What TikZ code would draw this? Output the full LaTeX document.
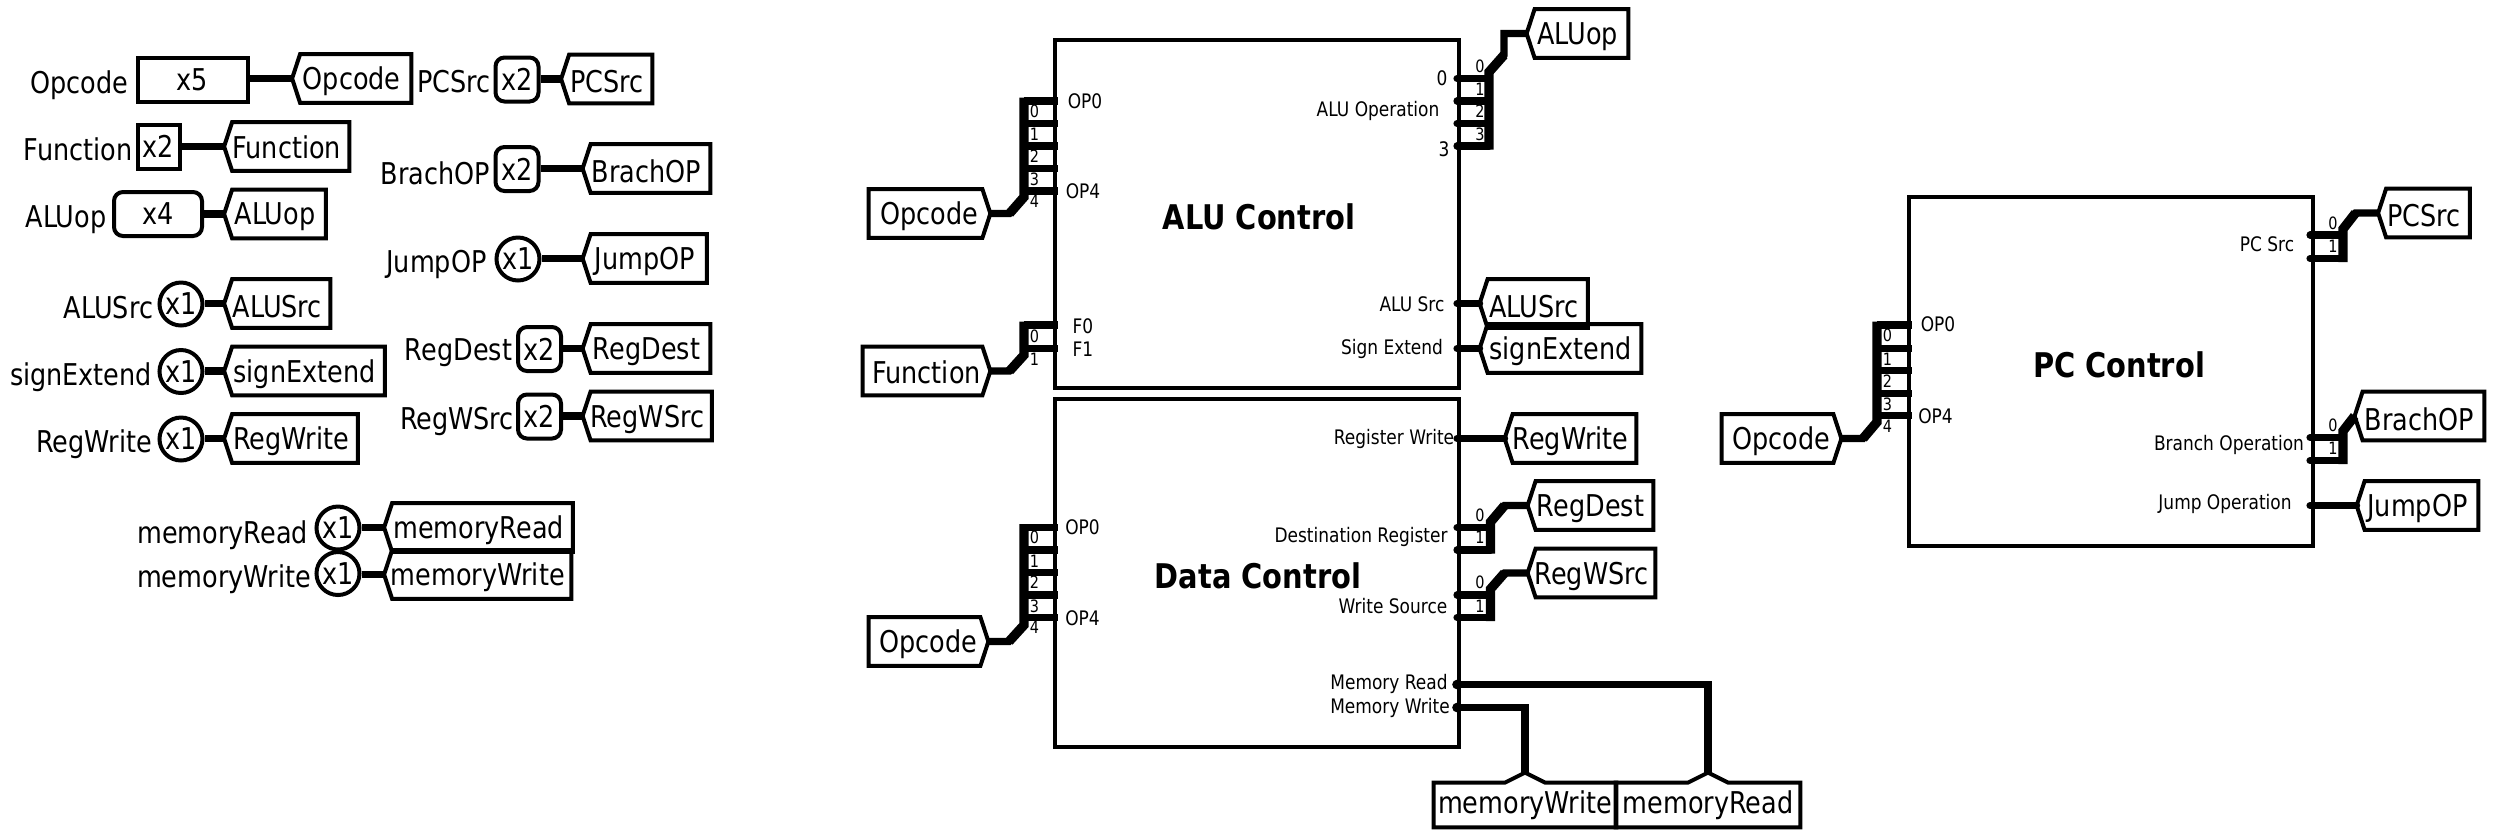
\documentclass[tikz,border=0pt]{standalone}
\usepackage{fontspec}
\setmainfont[FakeStretch=0.85]{DejaVu Sans}
\tikzset{
  outline/.style={draw=black,line width=2pt,line join=miter},
  wire/.style={draw=black,line width=3.6pt,line join=miter},
  busline/.style={draw=black,line width=4.7pt,line join=miter},
  pinwire/.style={wire,line cap=round},
  big/.style={inner sep=0pt,font=\fontsize{15}{18}\selectfont},
  pinlab/.style={inner sep=0pt,font=\fontsize{10}{12}\selectfont},
  bitlab/.style={inner sep=0pt,font=\fontsize{8.5}{10}\selectfont},
  title/.style={inner sep=0pt,font=\fontsize{17}{20}\selectfont\bfseries},
  ctl/.style={outline,rectangle,inner sep=0pt,minimum width=202pt,minimum height=174pt},
  sq/.style={outline,rectangle,inner sep=0pt,minimum height=22pt,big},
  rd/.style={sq,rounded corners=4.5pt},
  ci/.style={outline,circle,inner sep=0pt,minimum size=21.5pt,big},
  tagbody/.style={rectangle,inner sep=0pt,minimum height=24pt,big}
}
\newcommand\low[2]{\raisebox{-#1}[\height][\depth]{#2}}
% tag pointing left: name, tip x, right x, y, text
\newcommand\tagl[5]{%
  \node[tagbody,minimum width={(#3-#2)*0.5pt}] (#1) at ({(#2+#3)/2},#4) {\low{1.5pt}{#5}};
  \draw[outline] (#1.north east) -- ([xshift=4pt]#1.north west) -- (#1.west) -- ([xshift=4pt]#1.south west) -- (#1.south east) -- cycle;}
% tag pointing right: name, left x, tip x, y, text
\newcommand\tagr[5]{%
  \node[tagbody,minimum width={(#3-#2)*0.5pt}] (#1) at ({(#2+#3)/2},#4) {\low{1.5pt}{#5}};
  \draw[outline] (#1.north west) -- ([xshift=-4pt]#1.north east) -- (#1.east) -- ([xshift=-4pt]#1.south east) -- (#1.south west) -- cycle;}
% tag pointing up: name, left x, right x, tip y, bottom y, text
\newcommand\tagu[6]{%
  \node[tagbody,minimum width={(#3-#2)*0.5pt},minimum height={(#5-#4)*0.5pt}] (#1) at ({(#2+#3)/2},{(#4+#5)/2}) {\low{2.5pt}{#6}};
  \draw[outline] ([yshift=-5pt]#1.north west) -- ([xshift=-10pt,yshift=-5pt]#1.north) -- (#1.north) -- ([xshift=10pt,yshift=-5pt]#1.north) -- ([yshift=-5pt]#1.north east) -- (#1.south east) -- (#1.south west) -- cycle;}
% pin stub: coordinate name, pin x, bus x, y
\newcommand\pinL[4]{\coordinate (#1) at (#2,#4); \draw[wire] (#3,#4) -- (#1);}
\newcommand\pinR[4]{\coordinate (#1) at (#2,#4); \draw[pinwire] (#1) -- (#3,#4);}
\begin{document}
\begin{tikzpicture}[x=0.5pt,y=-0.5pt]
\useasboundingbox[fill=white] (0,0) rectangle (2494,837);

% ---------- left column: declarations
\node[big] (lOpcode) at (79,85) {Opcode};
\node[sq,minimum width=55pt] (sOpcode) at (192.5,79.5) {x5};
\tagl{tOpcode}{292.5}{411}{78.5}{Opcode}
\draw[wire] (tOpcode.west -| sOpcode.east) -- (tOpcode.west);

\node[big] (lFunction) at (78,149) {Function};
\node[sq,minimum width=21pt] (sFunction) at (158.5,146.5) {x2};
\tagl{tFunction}{224.5}{349}{146.5}{\raisebox{1pt}[\height][\depth]{Function}}
\draw[wire] (tFunction.west -| sFunction.east) -- (tFunction.west);

\node[big] (lALUop) at (66,220) {ALUop};
\node[rd,minimum width=44pt] (sALUop) at (158,214) {x4};
\tagl{tALUop}{224.5}{325.5}{214}{ALUop}
\draw[wire] (tALUop.west -| sALUop.east) -- (tALUop.west);

\node[big] (lALUSrc) at (108.5,308) {ALUSrc};
\node[ci] (sALUSrc) at (181,304) {x1};
\tagl{tALUSrc}{224.5}{330}{303.5}{ALUSrc}
\draw[wire] (tALUSrc.west -| sALUSrc.east) -- (tALUSrc.west);

\node[big] (lsignExtend) at (81,377) {signExtend};
\node[ci] (ssignExtend) at (181,371.5) {x1};
\tagl{tsignExtend}{224.5}{384.5}{371}{signExtend}
\draw[wire] (tsignExtend.west -| ssignExtend.east) -- (tsignExtend.west);

\node[big] (lRegWrite) at (94,444) {RegWrite};
\node[ci] (sRegWrite) at (181,439) {x1};
\tagl{tRegWrite}{224.5}{357.5}{438.5}{RegWrite}
\draw[wire] (tRegWrite.west -| sRegWrite.east) -- (tRegWrite.west);

\node[big] (lPCSrc) at (454,82) {PCSrc};
\node[rd,minimum width=21.5pt] (sPCSrc) at (517,79.5) {x2};
\tagl{tPCSrc}{561.5}{652}{79}{PCSrc}
\draw[wire] (tPCSrc.west -| sPCSrc.east) -- (tPCSrc.west);

\node[big] (lBrachOP) at (435.5,173) {BrachOP};
\node[rd,minimum width=21.5pt] (sBrachOP) at (517,169) {x2};
\tagl{tBrachOP}{583}{710}{168.5}{BrachOP}
\draw[wire] (tBrachOP.west -| sBrachOP.east) -- (tBrachOP.west);

\node[big] (lJumpOP) at (436.5,264) {JumpOP};
\node[ci] (sJumpOP) at (518,259) {x1};
\tagl{tJumpOP}{583}{706.5}{258.5}{JumpOP}
\draw[wire] (tJumpOP.west -| sJumpOP.east) -- (tJumpOP.west);

\node[big] (lRegDest) at (458.5,353) {RegDest};
\node[rd,minimum width=21.5pt] (sRegDest) at (539.5,349) {x2};
\tagl{tRegDest}{583}{710}{348.5}{RegDest}
\draw[wire] (tRegDest.west -| sRegDest.east) -- (tRegDest.west);

\node[big] (lRegWSrc) at (457,421) {RegWSrc};
\node[rd,minimum width=21.5pt] (sRegWSrc) at (539.5,416.5) {x2};
\tagl{tRegWSrc}{583}{711.5}{416}{RegWSrc}
\draw[wire] (tRegWSrc.west -| sRegWSrc.east) -- (tRegWSrc.west);

\node[big] (lmemoryRead) at (222.5,535) {memoryRead};
\node[ci] (smemoryRead) at (338,528) {x1};
\tagl{tmemoryRead}{384.5}{572.5}{527.5}{memoryRead}
\draw[wire] (tmemoryRead.west -| smemoryRead.east) -- (tmemoryRead.west);

\node[big] (lmemoryWrite) at (224,579) {memoryWrite};
\node[ci] (smemoryWrite) at (338,573.5) {x1};
\tagl{tmemoryWrite}{384.5}{571}{574.5}{memoryWrite}
\draw[wire] (tmemoryWrite.west -| smemoryWrite.east) -- (tmemoryWrite.west);

% ---------- ALU Control
\node[ctl] (alu) at (1257,213.5) {};
\node[title] (aluTitle) at (1259,217) {ALU Control};
\node[pinlab] (aOP0) at (1085,101.5) {OP0};
\node[pinlab] (aOP4) at (1083,191.5) {OP4};
\node[pinlab] (aF0) at (1083,326) {F0};
\node[pinlab] (aF1) at (1083,349) {F1};
\node[pinlab] (aR0) at (1442,78.5) {0};
\node[pinlab] (aOper) at (1378,111) {ALU Operation};
\node[pinlab] (aR3) at (1444,149) {3};
\node[pinlab] (aSrc) at (1412,304) {ALU Src};
\node[pinlab] (aSign) at (1392,349) {Sign Extend};

\tagr{aOpTag}{869}{990}{213.5}{Opcode}
\coordinate (aIn0) at (1058,101);
\draw[wire] (aOpTag.east) -- (1009.5,213.5) -- (1017,205);
\draw[wire] (1024,101) -- (aIn0);
\draw[busline] (1009.5,213.5) -- (1024,197) -- (1024,97.5);
\pinL{aIn1}{1058}{1024}{123.5}
\pinL{aIn2}{1058}{1024}{146}
\pinL{aIn3}{1058}{1024}{168.5}
\pinL{aIn4}{1058}{1024}{191}
\node[bitlab] (ab0) at (1034.5,111.5) {0};
\node[bitlab] (ab1) at (1034.5,134) {1};
\node[bitlab] (ab2) at (1034.5,156.5) {2};
\node[bitlab] (ab3) at (1034.5,179) {3};
\node[bitlab] (ab4) at (1034.5,201.5) {4};

\tagr{aFnTag}{863}{990}{371}{\raisebox{1pt}[\height][\depth]{Function}}
\coordinate (aFn0) at (1058,325);
\draw[wire] (aFnTag.east) -- (1009.5,371) -- (1017,363);
\draw[wire] (1024,325) -- (aFn0);
\draw[busline] (1009.5,371) -- (1024,355) -- (1024,321.5);
\pinL{aFn1}{1058}{1024}{348.5}
\node[bitlab] (af0) at (1034.5,336) {0};
\node[bitlab] (af1) at (1034.5,359.5) {1};

\tagl{aALUopTag}{1527}{1628}{33.5}{ALUop}
\coordinate (aOut0) at (1457,78.5);
\draw[pinwire] (aOut0) -- (1489,78.5);
\draw[wire] (1497,63) -- (1504,55) -- (1504,33.5) -- (aALUopTag.west);
\draw[busline] (1489,149.5) -- (1489,72) -- (1504,55);
\pinR{aOut1}{1457}{1489}{101}
\pinR{aOut2}{1457}{1489}{123.5}
\pinR{aOut3}{1457}{1489}{146}
\node[bitlab] (ar0) at (1480,66.5) {0};
\node[bitlab] (ar1) at (1480,89) {1};
\node[bitlab] (ar2) at (1480,111.5) {2};
\node[bitlab] (ar3) at (1480,134) {3};

\tagl{aSrcTag}{1480}{1587.5}{303.5}{ALUSrc}
\coordinate (aSrcPin) at (1457,303.5);
\draw[pinwire] (aSrcPin) -- (aSrcTag.west);
\tagl{aSignTag}{1480}{1641}{348.5}{signExtend}
\coordinate (aSignPin) at (1457,348.5);
\draw[pinwire] (aSignPin) -- (aSignTag.west);

% ---------- Data Control
\node[ctl] (dat) at (1257,573) {};
\node[title] (datTitle) at (1258,576) {Data Control};
\node[pinlab] (dOP0) at (1082.5,527.5) {OP0};
\node[pinlab] (dOP4) at (1082.5,618.5) {OP4};
\node[pinlab] (dRW) at (1394,438.5) {Register Write};
\node[pinlab] (dDR) at (1361,536.5) {Destination Register};
\node[pinlab] (dWS) at (1393,606.5) {Write Source};
\node[pinlab] (dMR) at (1389,683.5) {Memory Read};
\node[pinlab] (dMW) at (1390,707.5) {Memory Write};

\tagr{dOpTag}{869}{988}{641.5}{Opcode}
\coordinate (dIn0) at (1058,527.5);
\draw[wire] (dOpTag.east) -- (1009,641.5) -- (1017,633);
\draw[wire] (1024,527.5) -- (dIn0);
\draw[busline] (1009,641.5) -- (1024,625) -- (1024,524);
\pinL{dIn1}{1058}{1024}{550}
\pinL{dIn2}{1058}{1024}{572.5}
\pinL{dIn3}{1058}{1024}{595}
\pinL{dIn4}{1058}{1024}{617.5}
\node[bitlab] (db0) at (1034.5,537.5) {0};
\node[bitlab] (db1) at (1034.5,561) {1};
\node[bitlab] (db2) at (1034.5,582.5) {2};
\node[bitlab] (db3) at (1034.5,606) {3};
\node[bitlab] (db4) at (1034.5,627.5) {4};

\tagl{dRWTag}{1505}{1636}{438.5}{RegWrite}
\coordinate (dRWPin) at (1457,438.5);
\draw[pinwire] (dRWPin) -- (dRWTag.west);

\tagl{dDRTag}{1528}{1653}{505.5}{RegDest}
\coordinate (dDR0) at (1457,527.5);
\draw[pinwire] (dDR0) -- (1490.5,527.5);
\draw[wire] (1497,514) -- (1504.5,505.5) -- (dDRTag.west);
\draw[busline] (1490.5,553.5) -- (1490.5,522) -- (1504.5,505.5);
\pinR{dDR1}{1457}{1490.5}{550}
\node[bitlab] (dr0) at (1480,515.5) {0};
\node[bitlab] (dr1) at (1480,537.5) {1};

\tagl{dWSTag}{1528}{1655}{573}{RegWSrc}
\coordinate (dWS0) at (1457,595);
\draw[pinwire] (dWS0) -- (1490.5,595);
\draw[wire] (1497,581) -- (1504.5,573) -- (dWSTag.west);
\draw[busline] (1490.5,621) -- (1490.5,589) -- (1504.5,573);
\pinR{dWS1}{1457}{1490.5}{617.5}
\node[bitlab] (ds0) at (1480,582.5) {0};
\node[bitlab] (ds1) at (1480,606) {1};

\tagu{dMWTag}{1434}{1616}{773}{827}{memoryWrite}
\tagu{dMRTag}{1616}{1800}{773}{827}{memoryRead}
\coordinate (dMRPin) at (1457,684.5);
\coordinate (dMWPin) at (1457,707.5);
\draw[wire] (dMRPin) -- (dMRTag.north |- dMRPin) -- (dMRTag.north);
\draw[wire] (dMWPin) -- (dMWTag.north |- dMWPin) -- (dMWTag.north);
\fill (dMRPin) circle (2.4pt);
\fill (dMWPin) circle (2.4pt);

% ---------- PC Control
\node[ctl,minimum height=174.5pt] (pc) at (2110.5,371) {};
\node[title] (pcTitle) at (2119,365) {PC Control};
\node[pinlab] (pOP0) at (1938,324) {OP0};
\node[pinlab] (pOP4) at (1935.5,416) {OP4};
\node[pinlab] (pSrc) at (2267,244.5) {PC Src};
\node[pinlab] (pBr) at (2229,445) {Branch Operation};
\node[pinlab] (pJp) at (2225,504) {Jump Operation};

\tagr{pOpTag}{1722}{1841}{438.5}{Opcode}
\coordinate (pIn0) at (1911.5,325);
\draw[wire] (pOpTag.east) -- (1863,438.5) -- (1870,430);
\draw[wire] (1877,325) -- (pIn0);
\draw[busline] (1863,438.5) -- (1877,422) -- (1877,321.5);
\pinL{pIn1}{1911.5}{1877}{348.5}
\pinL{pIn2}{1911.5}{1877}{370.5}
\pinL{pIn3}{1911.5}{1877}{393.5}
\pinL{pIn4}{1911.5}{1877}{415.5}
\node[bitlab] (pb0) at (1887.5,335.5) {0};
\node[bitlab] (pb1) at (1887.5,359) {1};
\node[bitlab] (pb2) at (1887.5,381) {2};
\node[bitlab] (pb3) at (1887.5,404) {3};
\node[bitlab] (pb4) at (1887.5,426) {4};

\tagl{pSrcTag}{2378.5}{2469.5}{213}{PCSrc}
\coordinate (pS0) at (2310,235);
\draw[pinwire] (pS0) -- (2343,235);
\draw[wire] (2349,221) -- (2355.5,213) -- (pSrcTag.west);
\draw[busline] (2343,262) -- (2343,229) -- (2355.5,213);
\pinR{pS1}{2310}{2343}{258.5}
\node[bitlab] (ps0) at (2333,223) {0};
\node[bitlab] (ps1) at (2333,246) {1};

\tagl{pBrTag}{2355}{2484}{416}{BrachOP}
\coordinate (pB0) at (2310,437.5);
\draw[pinwire] (pB0) -- (2343,437.5);
\draw[busline] (2343,464) -- (2343,431) -- (pBrTag.west);
\pinR{pB1}{2310}{2343}{460.5}
\node[bitlab] (pr0) at (2333,425.5) {0};
\node[bitlab] (pr1) at (2333,448.5) {1};

\tagl{pJpTag}{2357}{2478}{505.5}{JumpOP}
\coordinate (pJPin) at (2310,505.5);
\draw[pinwire] (pJPin) -- (pJpTag.west);
\end{tikzpicture}
\end{document}
